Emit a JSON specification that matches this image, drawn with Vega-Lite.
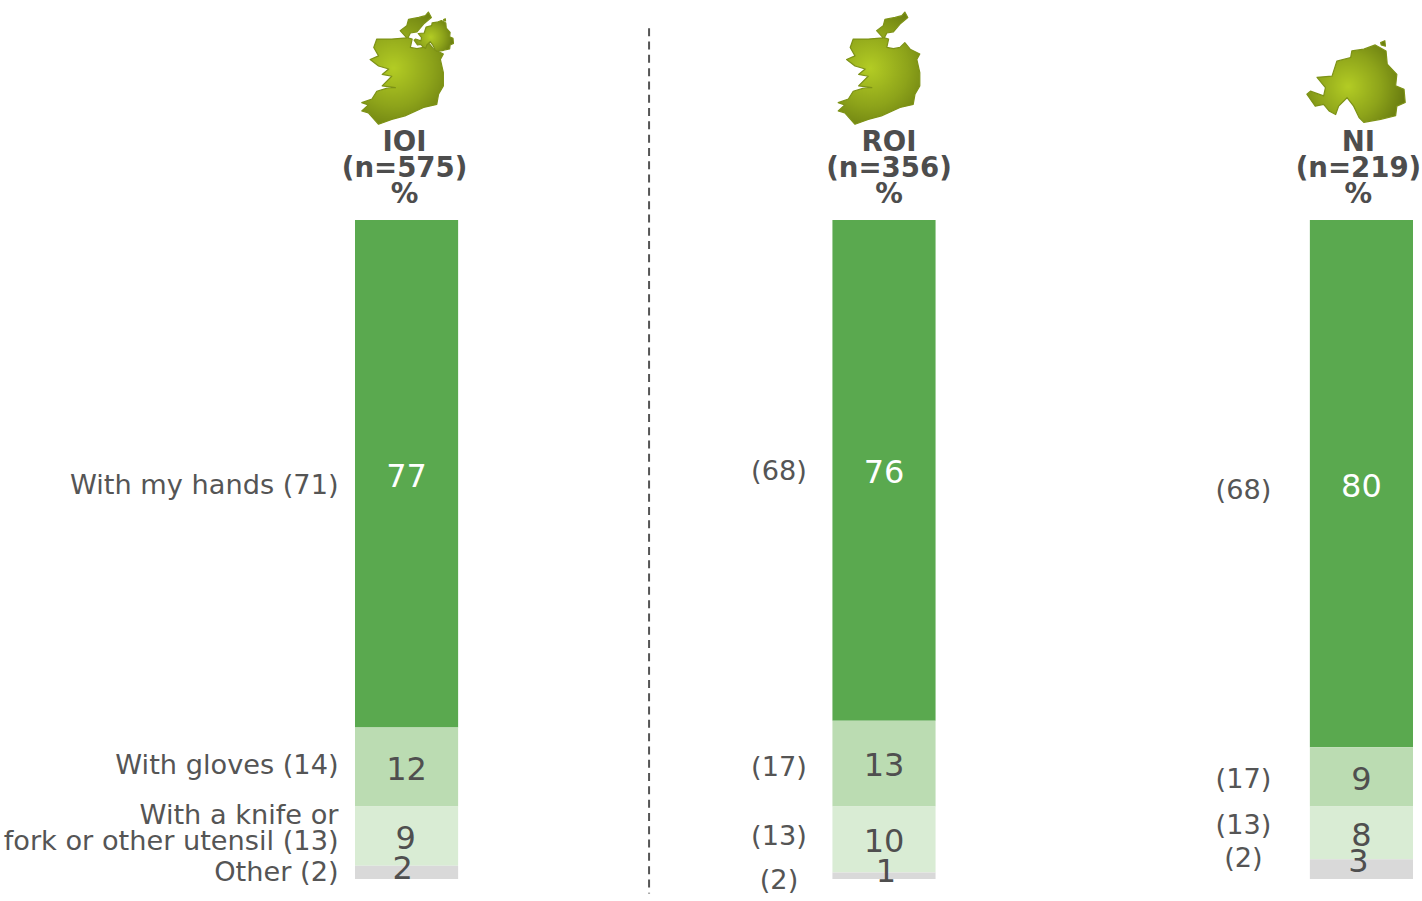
{
  "$schema": "https://vega.github.io/schema/vega-lite/v6.json",
  "width": 1422,
  "height": 901,
  "padding": 0,
  "autosize": "none",
  "background": "white",
  "config": {"view": {"stroke": null}, "text": {"font": "DejaVu Sans"}},
  "datasets": {
    "shares": [
      {"region": "IOI", "category": "With my hands", "rank": 4, "value": 77, "note": "With my hands (71)"},
      {"region": "IOI", "category": "With gloves", "rank": 3, "value": 12, "note": "With gloves (14)"},
      {"region": "IOI", "category": "With a knife or fork or other utensil", "rank": 2, "value": 9, "note": "With a knife or\nfork or other utensil (13)"},
      {"region": "IOI", "category": "Other", "rank": 1, "value": 2, "note": "Other (2)"},
      {"region": "ROI", "category": "With my hands", "rank": 4, "value": 76, "note": "(68)"},
      {"region": "ROI", "category": "With gloves", "rank": 3, "value": 13, "note": "(17)"},
      {"region": "ROI", "category": "With a knife or fork or other utensil", "rank": 2, "value": 10, "note": "(13)"},
      {"region": "ROI", "category": "Other", "rank": 1, "value": 1, "note": "(2)"},
      {"region": "NI", "category": "With my hands", "rank": 4, "value": 80, "note": "(68)"},
      {"region": "NI", "category": "With gloves", "rank": 3, "value": 9, "note": "(17)"},
      {"region": "NI", "category": "With a knife or fork or other utensil", "rank": 2, "value": 8, "note": "(13)"},
      {"region": "NI", "category": "Other", "rank": 1, "value": 3, "note": "(2)"}
    ],
    "headers": [
      {"region": "IOI", "heading": "IOI\n(n=575)\n%"},
      {"region": "ROI", "heading": "ROI\n(n=356)\n%"},
      {"region": "NI", "heading": "NI\n(n=219)\n%"}
    ]
  },
  "encoding": {
    "x": {
      "field": "region",
      "type": "nominal",
      "axis": null,
      "scale": {"type": "band", "domain": ["IOI", "ROI", "NI"], "range": [355, 1413], "paddingInner": 0.784, "paddingOuter": 0}
    }
  },
  "layer": [
    {
      "data": {"name": "shares"},
      "mark": {"type": "bar"},
      "encoding": {
        "y": {"field": "value", "type": "quantitative", "stack": "zero", "axis": null, "scale": {"domain": [0, 100], "range": [879, 220]}},
        "order": {"field": "rank", "type": "ordinal"},
        "color": {
          "field": "category",
          "type": "nominal",
          "legend": null,
          "scale": {
            "domain": ["With my hands", "With gloves", "With a knife or fork or other utensil", "Other"],
            "range": ["#5aa94f", "#bbdcb2", "#d9ecd4", "#d9d9d9"]
          }
        }
      }
    },
    {
      "data": {"name": "shares"},
      "mark": {
        "type": "text",
        "fontSize": 32,
        "dx": {"expr": "({IOI2:-1,IOI1:-4,ROI1:2,NI1:-3})[datum.region+datum.rank] || 0"},
        "dy": {"expr": "({IOI1:-3,ROI1:-4,NI1:-7,ROI3:2})[datum.region+datum.rank] || 3"}
      },
      "encoding": {
        "y": {"field": "value", "type": "quantitative", "stack": "zero", "bandPosition": 0.5},
        "order": {"field": "rank", "type": "ordinal"},
        "text": {"field": "value", "type": "quantitative"},
        "color": {"condition": {"test": "datum.rank === 4", "value": "#ffffff"}, "value": "#4f4f4f"}
      }
    },
    {
      "data": {"name": "shares"},
      "mark": {
        "type": "text",
        "fontSize": 27.2,
        "lineBreak": "\n",
        "lineHeight": 26,
        "color": "#555555",
        "align": {"expr": "datum.region === 'IOI' ? 'right' : 'center'"},
        "dx": {"expr": "({IOI:-68,ROI:-105,NI:-118})[datum.region]"},
        "dy": {"expr": "({IOI4:12,IOI3:-1,IOI2:-20,IOI1:1,ROI4:2,ROI3:4,ROI2:-2,ROI1:5,NI4:7,NI3:3,NI2:-7,NI1:-10})[datum.region+datum.rank]"}
      },
      "encoding": {
        "y": {"field": "value", "type": "quantitative", "stack": "zero", "bandPosition": 0.5},
        "order": {"field": "rank", "type": "ordinal"},
        "text": {"field": "note", "type": "nominal"}
      }
    },
    {
      "data": {"name": "headers"},
      "mark": {
        "type": "text",
        "fontSize": 27.6,
        "fontWeight": "bold",
        "lineBreak": "\n",
        "lineHeight": 26,
        "color": "#4d4d4d",
        "dx": {"expr": "({IOI:-2,ROI:5,NI:-3})[datum.region]"}
      },
      "encoding": {
        "y": {"datum": 111.7},
        "text": {"field": "heading", "type": "nominal"}
      }
    },
    {
      "data": {"values": [{"region": "IOI", "top": 129.1, "bottom": -2.2}]},
      "mark": {"type": "rule", "color": "#555555", "strokeWidth": 2, "strokeDash": [8, 5.3], "xOffset": 242.5},
      "encoding": {
        "y": {"field": "top", "type": "quantitative"},
        "y2": {"field": "bottom"}
      }
    },
    {
      "data": {"values": [{"region": "IOI"}, {"region": "ROI"}]},
      "mark": {
        "type": "point",
        "filled": true,
        "opacity": 1,
        "size": 14400,
        "stroke": "#7d9216",
        "strokeWidth": 1.2,
        "strokeJoin": "round",
        "xOffset": {"expr": "datum.region === 'IOI' ? 2 : 1"},
        "fill": {
          "gradient": "radial", "x1": 0.42, "y1": 0.5, "r1": 0, "x2": 0.42, "y2": 0.5, "r2": 0.62,
          "stops": [{"offset": 0, "color": "#b3cc24"}, {"offset": 0.55, "color": "#8da31a"}, {"offset": 1, "color": "#66790f"}]
        },
        "shape": "M.33,-.94L.38,-.85L.25,-.74L.14,-.61L.03,-.59L-.01,-.51L.06,-.49L.03,-.35L.14,-.33L.25,-.35L.33,-.43L.42,-.32L.58,-.24L.53,-.15L.58,.07L.58,.29L.5,.43L.47,.6L.25,.65L-.06,.79L-.28,.85L-.5,.93L-.67,.74L-.78,.71L-.67,.61L-.78,.57L-.61,.51L-.53,.38L-.33,.32L-.22,.32L-.44,.29L-.28,.13L-.44,.1L-.33,.01L-.5,-.04L-.64,-.15L-.5,-.21L-.58,-.35L-.53,-.49L-.28,-.49L-.03,-.51L-.14,-.63L-.03,-.71L0,-.82L.17,-.85L.28,-.88Z"
      },
      "encoding": {"y": {"datum": 123}}
    },
    {
      "data": {"values": [{"region": "IOI"}, {"region": "NI"}]},
      "mark": {
        "type": "point",
        "filled": true,
        "opacity": 1,
        "size": {"expr": "datum.region === 'IOI' ? 2304 : 14400"},
        "stroke": "#7d9216",
        "strokeWidth": 1.2,
        "strokeJoin": "round",
        "xOffset": {"expr": "datum.region === 'IOI' ? 27 : -6"},
        "yOffset": {"expr": "datum.region === 'IOI' ? -33.5 : 12.5"},
        "fill": {
          "gradient": "radial", "x1": 0.42, "y1": 0.55, "r1": 0, "x2": 0.42, "y2": 0.55, "r2": 0.6,
          "stops": [{"offset": 0, "color": "#b3cc24"}, {"offset": 0.55, "color": "#8da31a"}, {"offset": 1, "color": "#66790f"}]
        },
        "shape": "M-.06,-.5L.14,-.53L.33,-.6L.51,-.5L.53,-.28L.69,-.11L.67,.08L.81,.14L.83,.36L.69,.42L.67,.58L.42,.64L.14,.69L.06,.61L-.03,.42L-.14,.28L-.28,.42L-.33,.56L-.44,.5L-.53,.39L-.67,.42L-.81,.22L-.75,.17L-.53,.25L-.5,.11L-.64,-.06L-.39,-.08L-.31,-.33L-.08,-.39ZM.42,-.64L.49,-.67L.5,-.58L.43,-.6Z"
      },
      "encoding": {"y": {"datum": 123}}
    }
  ]
}
